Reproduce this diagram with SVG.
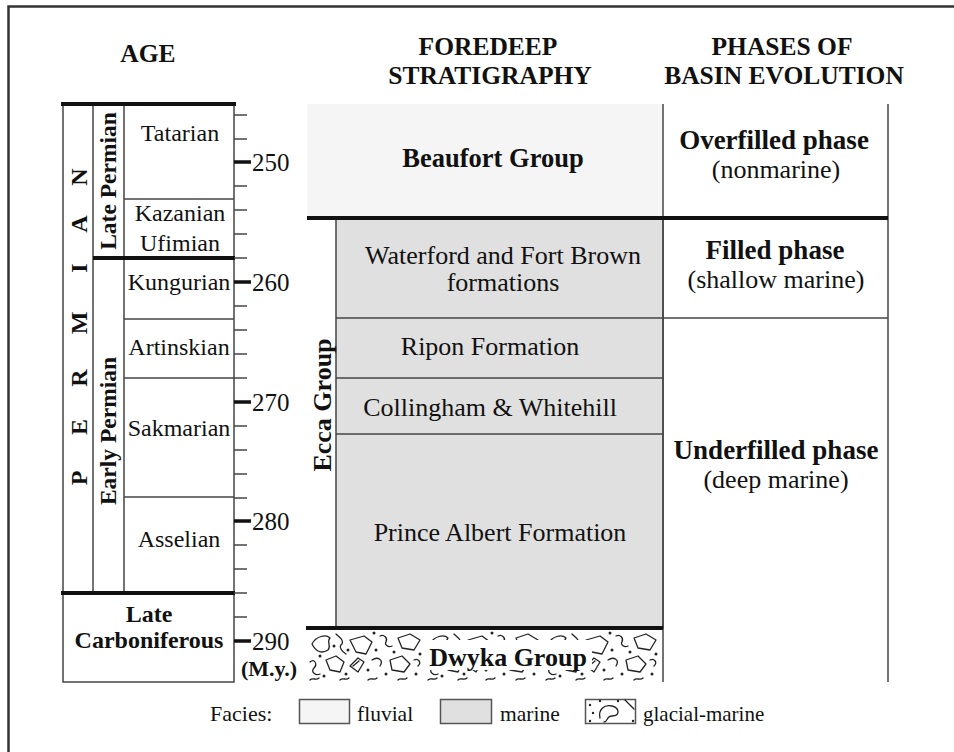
<svg xmlns="http://www.w3.org/2000/svg" width="954" height="752" viewBox="0 0 954 752">
<defs>
<style>
.t{font-family:"Liberation Serif","Times New Roman",serif;fill:#111;}
.b{font-weight:bold;}
.hd{font-family:"Liberation Serif",serif;font-weight:bold;font-size:25.5px;fill:#111;text-anchor:middle;}
.thin{stroke:#444;stroke-width:1.5;fill:none;}
.thick{stroke:#111;stroke-width:4;fill:none;}
.tick{stroke:#444;stroke-width:1.5;}
.mtick{stroke:#111;stroke-width:3.5;}
.cl{fill:none;stroke:#222;stroke-width:1.3;stroke-linejoin:round;stroke-linecap:round;}
</style>
<pattern id="glac" x="306" y="630" width="118" height="52" patternUnits="userSpaceOnUse">
<rect width="118" height="52" fill="#fff"/>
<path class="cl" d="M6,14 C10,6 20,4 24,8 C20,12 26,16 22,20 C16,24 10,22 6,14 Z"/>
<path class="cl" d="M30,4 C34,8 38,10 36,14 C32,16 36,22 40,24"/>
<path class="cl" d="M44,10 L58,6 L66,12 L60,24 L50,22 Z"/>
<path class="cl" d="M74,6 C78,4 82,8 80,12 C78,14 82,18 86,16"/>
<path class="cl" d="M92,8 L104,4 L114,10 L108,20 L96,18 Z"/>
<path class="cl" d="M4,32 C8,28 12,34 8,38 C4,42 10,46 14,44"/>
<path class="cl" d="M20,30 L30,26 L38,32 L34,42 L24,40 Z"/>
<path class="cl" d="M44,36 L52,28 L58,32 L52,42 Z M47,36 L53,31"/>
<path class="cl" d="M66,30 C72,26 78,30 74,36"/>
<path class="cl" d="M84,30 L96,26 L104,34 L98,42 L86,40 Z"/>
<path class="cl" d="M108,30 C112,28 116,32 112,36"/>
<path class="cl" d="M4,50 C7,47 10,51 13,48 M34,50 C37,47 40,51 43,48 M62,50 C65,47 68,51 71,48 M92,50 C95,47 98,51 101,48"/>
<g fill="#222">
<circle cx="28" cy="16" r="1.5"/><circle cx="42" cy="20" r="1.5"/><circle cx="70" cy="20" r="1.5"/>
<circle cx="88" cy="22" r="1.5"/><circle cx="14" cy="26" r="1.5"/><circle cx="40" cy="44" r="1.5"/>
<circle cx="62" cy="40" r="1.5"/><circle cx="80" cy="44" r="1.5"/><circle cx="114" cy="24" r="1.5"/>
<circle cx="18" cy="46" r="1.5"/><circle cx="110" cy="44" r="1.5"/><circle cx="68" cy="3" r="1.5"/>
</g>
</pattern>
</defs>
<rect width="954" height="752" fill="#fff"/>
<path d="M8.5,752 V6.5 H954" fill="none" stroke="#333" stroke-width="2.5"/>

<g id="headers">
<text class="hd" x="148" y="62">AGE</text>
<text class="hd" x="488" y="55">FOREDEEP</text>
<text class="hd" x="490" y="84">STRATIGRAPHY</text>
<text class="hd" x="782" y="55">PHASES OF</text>
<text class="hd" x="784" y="84">BASIN EVOLUTION</text>
</g>

<g id="age-table">
<rect x="63" y="104" width="171" height="578" fill="#fff" stroke="#444" stroke-width="1.5"/>
<line class="thin" x1="93" y1="104" x2="93" y2="593"/>
<line class="thin" x1="124" y1="104" x2="124" y2="593"/>
<line class="thin" x1="124" y1="199" x2="234" y2="199"/>
<line class="thin" x1="124" y1="319" x2="234" y2="319"/>
<line class="thin" x1="124" y1="378" x2="234" y2="378"/>
<line class="thin" x1="124" y1="497" x2="234" y2="497"/>
<line class="thick" x1="61" y1="104" x2="236" y2="104"/>
<line class="thick" x1="93" y1="258" x2="235" y2="258"/>
<line class="thick" x1="61" y1="593" x2="235" y2="593"/>
</g>

<g id="ticks">
<g class="tick">
<line x1="234" y1="115" x2="247" y2="115"/><line x1="234" y1="139" x2="247" y2="139"/>
<line x1="234" y1="186" x2="247" y2="186"/><line x1="234" y1="210" x2="247" y2="210"/>
<line x1="234" y1="234" x2="247" y2="234"/><line x1="234" y1="258" x2="247" y2="258"/>
<line x1="234" y1="306" x2="247" y2="306"/><line x1="234" y1="330" x2="247" y2="330"/>
<line x1="234" y1="354" x2="247" y2="354"/><line x1="234" y1="378" x2="247" y2="378"/>
<line x1="234" y1="426" x2="247" y2="426"/><line x1="234" y1="450" x2="247" y2="450"/>
<line x1="234" y1="474" x2="247" y2="474"/><line x1="234" y1="498" x2="247" y2="498"/>
<line x1="234" y1="545" x2="247" y2="545"/><line x1="234" y1="569" x2="247" y2="569"/>
<line x1="234" y1="593" x2="247" y2="593"/><line x1="234" y1="617" x2="247" y2="617"/>
</g>
<g class="mtick">
<line x1="234" y1="162" x2="251" y2="162"/><line x1="234" y1="282" x2="251" y2="282"/>
<line x1="234" y1="402" x2="251" y2="402"/><line x1="234" y1="521" x2="251" y2="521"/>
<line x1="234" y1="641" x2="251" y2="641"/>
</g>
<g class="t" font-size="25">
<text x="252" y="171">250</text><text x="252" y="291">260</text>
<text x="252" y="411">270</text><text x="252" y="530">280</text>
<text x="252" y="650">290</text>
</g>
<text class="t b" x="269" y="676" font-size="22" text-anchor="middle">(M.y.)</text>
</g>

<g id="age-labels" class="t">
<g class="b" font-size="24" text-anchor="middle">
<text transform="translate(87,177) rotate(-90)">N</text>
<text transform="translate(87,224) rotate(-90)">A</text>
<text transform="translate(87,268) rotate(-90)">I</text>
<text transform="translate(87,323) rotate(-90)">M</text>
<text transform="translate(87,378) rotate(-90)">R</text>
<text transform="translate(87,427) rotate(-90)">E</text>
<text transform="translate(87,478) rotate(-90)">P</text>
</g>
<g class="b" font-size="23.5" text-anchor="middle">
<text transform="translate(116,181) rotate(-90)">Late Permian</text>
<text transform="translate(116,431) rotate(-90)">Early Permian</text>
</g>
<g font-size="24" text-anchor="middle">
<text x="180" y="141">Tatarian</text>
<text x="180" y="221">Kazanian</text>
<text x="180" y="251">Ufimian</text>
<text x="179" y="290">Kungurian</text>
<text x="179" y="355">Artinskian</text>
<text x="179" y="436">Sakmarian</text>
<text x="179" y="547">Asselian</text>
</g>
<g class="b" font-size="24" text-anchor="middle">
<text x="149" y="622">Late</text>
<text x="149" y="648">Carboniferous</text>
</g>
</g>

<g id="beaufort">
<rect x="307" y="104" width="356" height="114" fill="#f5f5f5"/>
<text class="t b" x="493" y="167" font-size="26.5" text-anchor="middle">Beaufort Group</text>
</g>
<g id="ecca">
<rect x="336" y="218" width="327" height="410" fill="#e0e0e0" stroke="#444" stroke-width="1.5"/>
<text class="t b" transform="translate(331,405) rotate(-90)" font-size="26" text-anchor="middle">Ecca Group</text>
</g>
<g id="waterford">
<text class="t" x="503" y="264" font-size="26" text-anchor="middle">Waterford and Fort Brown</text>
<text class="t" x="503" y="291" font-size="26" text-anchor="middle">formations</text>
</g>
<g id="ripon">
<line class="thin" x1="336" y1="318" x2="888" y2="318"/>
<text class="t" x="490" y="355" font-size="26" text-anchor="middle">Ripon Formation</text>
</g>
<g id="collingham">
<line class="thin" x1="336" y1="378" x2="663" y2="378"/>
<text class="t" x="490" y="416" font-size="26" text-anchor="middle">Collingham &amp; Whitehill</text>
</g>
<g id="prince-albert">
<line class="thin" x1="336" y1="434" x2="663" y2="434"/>
<text class="t" x="500" y="541" font-size="26" text-anchor="middle">Prince Albert Formation</text>
</g>
<g id="dwyka">
<rect x="306" y="630" width="356" height="52" fill="url(#glac)"/>
<rect x="424" y="640" width="168" height="30" fill="#fff"/>
<text class="t b" x="508" y="666" font-size="26" text-anchor="middle">Dwyka Group</text>
</g>

<g id="phases">
<line class="thin" x1="663" y1="104" x2="663" y2="682"/>
<line class="thin" x1="888" y1="104" x2="888" y2="682"/>
<g class="t" text-anchor="middle">
<text class="b" x="774" y="149" font-size="27">Overfilled phase</text>
<text x="776" y="178" font-size="26">(nonmarine)</text>
<text class="b" x="775" y="259" font-size="27">Filled phase</text>
<text x="776" y="288" font-size="26">(shallow marine)</text>
<text class="b" x="776" y="459" font-size="27">Underfilled phase</text>
<text x="776" y="488" font-size="26">(deep marine)</text>
</g>
</g>

<g id="connectors">
<line class="thick" x1="307" y1="218" x2="888" y2="218"/>
<line class="thick" x1="306" y1="628" x2="663" y2="628"/>
</g>

<g id="legend">
<text class="t" x="210" y="721" font-size="22">Facies:</text>
<rect x="299.5" y="699.5" width="50" height="24" fill="#f5f5f5" stroke="#555" stroke-width="1.5"/>
<text class="t" x="357" y="721" font-size="21.5">fluvial</text>
<rect x="440.5" y="699.5" width="51" height="24" fill="#e0e0e0" stroke="#555" stroke-width="1.5"/>
<text class="t" x="500" y="721" font-size="21.5">marine</text>
<rect x="585.5" y="699.5" width="50" height="24" fill="#fff" stroke="#555" stroke-width="1.5"/>
<path class="cl" d="M600,718 C598,710 604,704 612,706 C620,708 620,716 612,716 C606,716 608,722 604,722 M625,700 L634,709"/>
<g fill="#222"><circle cx="590" cy="705" r="1.2"/><circle cx="593" cy="713" r="1.2"/><circle cx="600" cy="701" r="1.2"/><circle cx="590" cy="721" r="1.2"/><circle cx="633" cy="721" r="1.2"/><circle cx="618" cy="701" r="1.2"/></g>
<text class="t" x="643" y="721" font-size="21">glacial-marine</text>
</g>
</svg>
